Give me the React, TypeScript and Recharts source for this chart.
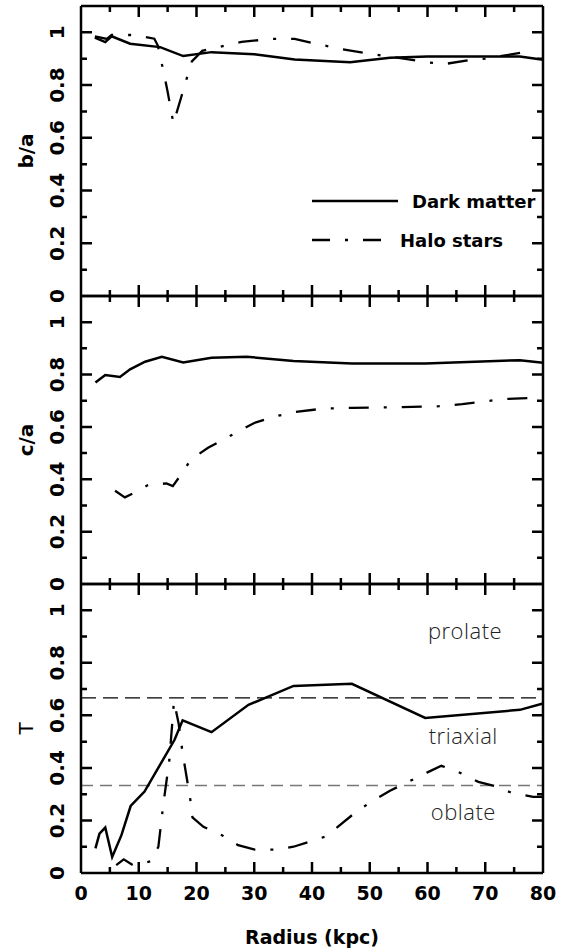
import React from 'react';
import { LineChart, Line, XAxis, YAxis, ReferenceLine, ReferenceDot, Legend } from 'recharts';

// axis ticks
const radiusMajor = [0, 10, 20, 30, 40, 50, 60, 70, 80];
const radiusMarks = [5, 10, 15, 20, 25, 30, 35, 40, 45, 50, 55, 60, 65, 70, 75];
const ratioMajor = [0, 0.2, 0.4, 0.6, 0.8, 1.0];
const ratioMarks = [0.1, 0.2, 0.3, 0.4, 0.5, 0.6, 0.7, 0.8, 0.9, 1.0];

// b/a
const baDarkR = [2.4, 4.2, 5.3, 8.5, 13.7, 17.7, 22.6, 30, 37, 46.6, 53.5, 60, 70, 76, 80];
const baDarkV = [0.98, 0.963, 0.985, 0.957, 0.944, 0.91, 0.925, 0.917, 0.897, 0.887, 0.904, 0.908, 0.908, 0.908, 0.896];
const baHaloR = [2.4, 4.5, 5.3, 9, 12.7, 13.3, 14.4, 15, 16, 17.3, 18.1, 19.2, 21, 27.8, 33, 37, 40, 45, 50, 55, 59.8, 63, 67, 70, 76.5, 78];
const baHaloV = [0.985, 0.975, 0.99, 0.99, 0.976, 0.95, 0.84, 0.775, 0.655, 0.75, 0.81, 0.89, 0.93, 0.964, 0.975, 0.975, 0.96, 0.937, 0.919, 0.903, 0.887, 0.88, 0.894, 0.9, 0.924, 0.925];

// c/a
const caDarkR = [2.5, 4.2, 6.75, 8.5, 11.1, 14, 17.7, 22.6, 28.7, 36.8, 46.9, 59.6, 76, 80];
const caDarkV = [0.77, 0.798, 0.791, 0.82, 0.849, 0.868, 0.846, 0.864, 0.868, 0.852, 0.842, 0.842, 0.855, 0.845];
const caHaloR = [5.9, 7.6, 9.3, 11.6, 14.8, 15.9, 17.4, 19, 22, 25, 30, 33.6, 37, 42, 47, 55, 62, 66, 73, 80];
const caHaloV = [0.356, 0.331, 0.349, 0.378, 0.384, 0.374, 0.42, 0.475, 0.52, 0.556, 0.615, 0.64, 0.657, 0.67, 0.673, 0.675, 0.679, 0.687, 0.706, 0.712];

// triaxiality T
const tDarkR = [2.5, 3.2, 4.2, 5.4, 7, 8.6, 11, 16.2, 17.6, 22.6, 29, 36.8, 46.9, 59.6, 76, 80];
const tDarkV = [0.094, 0.15, 0.173, 0.061, 0.144, 0.255, 0.31, 0.507, 0.581, 0.536, 0.64, 0.712, 0.72, 0.59, 0.621, 0.645];
const tHaloR = [6.1, 7.4, 9, 12.2, 13.4, 14.2, 15.3, 16.1, 16.9, 17.6, 18.9, 19.3, 21.2, 24.4, 27.2, 30.1, 33.9, 36.8, 42.5, 47.7, 50.9, 53.5, 56.4, 59.9, 62.4, 65.3, 68.8, 71.7, 74.6, 78.3, 80];
const tHaloV = [0.03, 0.052, 0.03, 0.045, 0.1, 0.252, 0.43, 0.654, 0.57, 0.456, 0.284, 0.212, 0.176, 0.144, 0.106, 0.089, 0.089, 0.1, 0.14, 0.234, 0.28, 0.313, 0.344, 0.382, 0.408, 0.385, 0.347, 0.331, 0.305, 0.29, 0.29];

const prolateLimit = 2 / 3;
const oblateLimit = 1 / 3;

const zip = (rs: number[], vs: number[]) => rs.map((r, i) => ({ r, v: vs[i] }));

const FONT = '"DejaVu Sans", sans-serif';
const THIN = '"Open Sans", "DejaVu Sans", sans-serif';
const DASH_DOT = '20 15 3 15';
const AXIS = { stroke: '#000', strokeWidth: 2.5 };
const MAJOR = 11;
const MINOR = 6;
const R_MAX = 80;
const V_MAX = 1.1;
const PLOT_W = 462;

const XLabel = ({ x, y, payload }: any) => (
  <text x={x} y={y + MAJOR + 27} textAnchor="middle" fontFamily={FONT} fontWeight="bold" fontSize={19} fill="#000">
    {payload.value}
  </text>
);

const YLabel = ({ x, y, payload }: any) => {
  const k = Math.round(payload.value * 10);
  const label = k === 0 ? '0' : k === 10 ? '1' : payload.value.toFixed(1);
  const lx = x - MAJOR - 17;
  return (
    <text x={lx} y={y} transform={`rotate(-90 ${lx} ${y})`} textAnchor="middle" fontFamily={FONT} fontWeight="bold" fontSize={20} fill="#000">
      {label}
    </text>
  );
};

// y title; its label box spans the plot height, so the top/bottom tick marks are drawn here too
const yTitle = (text: string, bold = true) => (props: any) => {
  const vb = props.viewBox;
  const cy = vb.y + vb.height / 2;
  const x0 = vb.x;
  const y0 = vb.y;
  const y1 = vb.y + vb.height;
  const px = (r: number) => x0 + (r / R_MAX) * PLOT_W;
  return (
    <g>
      <text x={33} y={cy} transform={`rotate(-90 33 ${cy})`} textAnchor="middle" fontFamily={FONT} fontWeight={bold ? 'bold' : 'normal'} fontSize={20} fill="#000">
        {text}
      </text>
      {radiusMarks.map((r) => {
        const len = r % 10 === 0 ? MAJOR : MINOR;
        return (
          <g key={r}>
            <rect x={px(r) - 1.25} y={y1 - len} width={2.5} height={len} fill="#000" />
            <rect x={px(r) - 1.25} y={y0} width={2.5} height={len} fill="#000" />
          </g>
        );
      })}
    </g>
  );
};

const xTitle = (props: any) => {
  const vb = props.viewBox;
  return (
    <text x={vb.x + vb.width / 2} y={vb.y + vb.height + 71} textAnchor="middle" fontFamily={FONT} fontWeight="bold" fontSize={19} fill="#000">
      Radius (kpc)
    </text>
  );
};

const LegendBox = (props: any) => {
  const rows = (props.payload || []).filter((e: any) => e.value === 'Dark matter' || e.value === 'Halo stars');
  return (
    <svg width={250} height={64}>
      {rows.map((entry: any, i: number) => {
        const halo = entry.value === 'Halo stars';
        const ly = 11 + i * 39;
        return (
          <g key={entry.value}>
            <line x1={0} x2={halo ? 78 : 86} y1={ly} y2={ly} stroke="#000" strokeWidth={2.5} strokeDasharray={halo ? '18 15 3 15' : undefined} />
            <text x={halo ? 88 : 100} y={ly + 7} fontFamily={FONT} fontWeight="bold" fontSize={18} fill="#000">
              {entry.value}
            </text>
          </g>
        );
      })}
    </svg>
  );
};

const annot = (text: string) => ({
  value: text,
  position: 'center' as const,
  fontFamily: THIN,
  fontWeight: 300,
  fontSize: 22,
  fill: '#222',
  letterSpacing: 0.5,
});

// left/right tick marks as one broken line (null = pen up)
function tickPoints() {
  const dr = (len: number) => (len * R_MAX) / PLOT_W;
  const pts: { r: number; v: number | null }[] = [];
  ratioMarks.forEach((v) => {
    const len = dr(Math.round(v * 10) % 2 === 0 ? MAJOR : MINOR);
    pts.push({ r: 0, v }, { r: len, v }, { r: 0, v: null });
    pts.push({ r: R_MAX, v }, { r: R_MAX - len, v }, { r: R_MAX, v: null });
  });
  return pts;
}

interface PanelProps {
  top: number;
  height: number;
  bottom: number;
  title: string;
  boldTitle?: boolean;
  dark: { r: number; v: number }[];
  halo: { r: number; v: number }[];
  showX?: boolean;
  children?: React.ReactNode;
}

const xCommon = { type: 'number' as const, domain: [0, R_MAX], interval: 0, height: 1, mirror: true, tickMargin: 0, tickSize: MAJOR, tickLine: false };
const yCommon = { type: 'number' as const, domain: [0, V_MAX], interval: 0, width: 1, mirror: true, tickMargin: 0, tickSize: MAJOR, tickLine: false };

function Panel({ top, height, bottom, title, boldTitle = true, dark, halo, showX = false, children }: PanelProps) {
  return (
    <div style={{ position: 'absolute', left: 0, top }}>
      <LineChart width={568} height={height} margin={{ top: 6, right: 25, bottom, left: 81 }}>
        <XAxis {...xCommon} xAxisId="b" dataKey="r" ticks={radiusMajor} axisLine={AXIS}
          tick={showX ? (p: any) => <XLabel {...p} /> : false} label={showX ? xTitle : undefined} />
        <XAxis {...xCommon} xAxisId="t" orientation="top" dataKey="r" ticks={radiusMajor} axisLine={AXIS} tick={false} />
        <YAxis {...yCommon} yAxisId="l" ticks={ratioMajor} axisLine={AXIS}
          tick={(p: any) => <YLabel {...p} />} label={yTitle(title, boldTitle)} />
        <YAxis {...yCommon} yAxisId="r" orientation="right" ticks={ratioMajor} axisLine={AXIS} tick={false} />
        {children}
        <Line
          xAxisId="b"
          yAxisId="l"
          data={tickPoints()}
          dataKey="v"
          name="ticks"
          legendType="none"
          type="linear"
          stroke="#000"
          strokeWidth={2.5}
          dot={false}
          connectNulls={false}
          isAnimationActive={false}
        />
        <Line
          xAxisId="b"
          yAxisId="l"
          data={dark}
          dataKey="v"
          name="Dark matter"
          type="linear"
          stroke="#000"
          strokeWidth={2.5}
          dot={false}
          isAnimationActive={false}
        />
        <Line
          xAxisId="b"
          yAxisId="l"
          data={halo}
          dataKey="v"
          name="Halo stars"
          type="linear"
          stroke="#000"
          strokeWidth={2.3}
          strokeDasharray={DASH_DOT}
          dot={false}
          isAnimationActive={false}
        />
      </LineChart>
    </div>
  );
}

export default function App() {
  return (
    <div style={{ position: 'absolute', left: 0, top: 0, width: 568, height: 952, background: '#fff' }}>
      <Panel top={0} height={310} bottom={14} title="b/a" dark={zip(baDarkR, baDarkV)} halo={zip(baHaloR, baHaloV)}>
        <Legend
          layout="vertical"
          align="center"
          verticalAlign="middle"
          content={LegendBox}
          wrapperStyle={{ left: 312, top: 190, width: 250, height: 64 }}
        />
      </Panel>
      <Panel top={290} height={310} bottom={16} title="c/a" dark={zip(caDarkR, caDarkV)} halo={zip(caHaloR, caHaloV)} />
      <Panel top={578} height={374} bottom={79} title="T" boldTitle={false} dark={zip(tDarkR, tDarkV)} halo={zip(tHaloR, tHaloV)} showX>
        <ReferenceLine xAxisId="b" yAxisId="l" y={prolateLimit} stroke="#000" strokeWidth={1.2} strokeDasharray="15 7" />
        <ReferenceLine xAxisId="b" yAxisId="l" y={oblateLimit} stroke="#777" strokeWidth={1.5} strokeDasharray="12 7" />
        <ReferenceDot xAxisId="b" yAxisId="l" x={66.5} y={0.92} r={0} fill="none" stroke="none" label={annot('prolate')} />
        <ReferenceDot xAxisId="b" yAxisId="l" x={66.2} y={0.52} r={0} fill="none" stroke="none" label={annot('triaxial')} />
        <ReferenceDot xAxisId="b" yAxisId="l" x={66.2} y={0.23} r={0} fill="none" stroke="none" label={annot('oblate')} />
      </Panel>
    </div>
  );
}
